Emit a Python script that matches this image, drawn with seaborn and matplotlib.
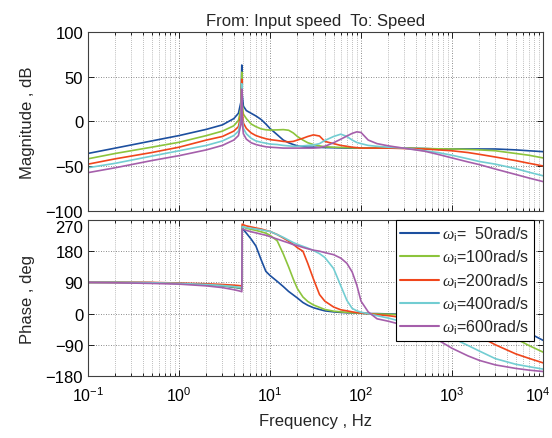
import numpy as np
import pandas as pd
import seaborn as sns
import matplotlib.pyplot as plt
import matplotlib.transforms as mtransforms
from matplotlib.ticker import LogLocator, LogFormatterMathtext, NullFormatter

# frequency grid (Hz)
freq = [0.1, 0.2, 0.5, 1, 2, 3, 4, 4.5, 4.8, 4.9, 4.95, 5.1, 5.5, 6.2, 7, 8, 9, 10,
        12, 14, 16, 18, 20, 23, 26, 30, 35, 40, 50, 60, 70, 80, 90, 100, 120, 150,
        200, 300, 500, 700, 1000, 1500, 2000, 3000, 5000, 7000, 10000]

labels = [r'$\omega_{\rm i}$=  50rad/s', r'$\omega_{\rm i}$=100rad/s',
          r'$\omega_{\rm i}$=200rad/s', r'$\omega_{\rm i}$=400rad/s',
          r'$\omega_{\rm i}$=600rad/s']

# magnitude, dB
mag_50 = [-36, -30, -22, -16, -9, -4, 3, 9, 22, 63, 30, 17, 12, 9, 6, 2, -3, -8,
          -15, -21, -24, -26, -27.5, -28.5, -29, -29, -29.2, -29.4, -29.6, -29.8, -30, -30, -30, -30, -30, -30,
          -30, -30, -30.5, -31, -31, -31, -31, -31, -32, -33, -34]
mag_100 = [-42, -36, -29, -23.5, -16, -11, -5, 1, 15, 55, 20, 8, 3, -3, -6, -8.5, -9.5, -9.8,
           -9.6, -9.3, -10, -13, -17, -21, -24, -26, -27.5, -28.5, -29, -29.3, -29.5, -29.7, -29.8, -30, -30, -30,
           -30, -30, -30.5, -30.8, -31, -31.5, -32, -33, -36, -38, -41]
mag_200 = [-48, -42, -35, -29, -21, -17, -11, -6, 8, 47, 12, -2, -8, -13, -16, -18, -19.5, -20.5,
           -21.5, -22.5, -23, -22.5, -21, -19, -17, -15.2, -16.5, -22.5, -25, -27, -28, -29, -29.5, -30, -30, -30,
           -30, -30.5, -31, -32, -33, -35, -37, -40, -44, -47, -50]
mag_400 = [-52, -47, -39, -33, -27, -22, -16, -11, 3, 42, 5, -8, -14, -19, -22, -23.5, -24.5, -25.5,
           -26, -27, -27.5, -28, -28, -27.5, -27, -26.5, -25, -21.5, -17, -14.4, -17, -21, -23.7, -25, -27, -28,
           -29, -30, -33, -35, -38, -42, -45, -48, -53, -57, -61]
mag_600 = [-57.5, -52, -44, -38.5, -32, -27, -21, -16, -3, 36, 0, -14, -20, -24, -26, -27.5, -28.5, -29,
           -29.5, -30, -30, -30, -30, -30, -30, -30, -29.5, -28, -24, -20, -16.5, -13.5, -11.8, -12.5, -21, -25,
           -27.5, -30.2, -33.5, -37, -41, -45.5, -48.5, -53.5, -59.5, -63.5, -67.5]

# phase, deg
ph_50 = [90, 90, 89, 87, 83, 80, 76, 74, 72, 71, 246, 242, 232, 215, 195, 155, 122, 110,
         93, 78, 64, 54, 45, 32, 24, 17, 12, 8, 5, 3.5, 2.5, 2, 1.5, 1, 0, 0,
         -1, -2, -4, -6, -8, -12, -16, -24, -40, -56, -77]
ph_100 = [90, 90, 89, 87, 84, 81, 77, 75, 74, 73, 252, 250, 246, 243, 240, 236, 232, 226,
          210, 172, 135, 100, 72, 48, 35, 25, 18, 12, 7, 5, 3.5, 2.5, 2, 1, 0, -1,
          -2, -4, -7, -10, -14, -22, -30, -46, -72, -92, -111]
ph_200 = [90, 90, 90, 88, 86, 84, 82, 81, 80, 80, 258, 256, 253, 250, 247, 244, 240, 237,
          228, 218, 209, 200, 190, 180, 145, 100, 55, 36, 19, 11, 8, 5, 3, 1.5, 0, -3,
          -6, -12, -22, -30, -42, -56, -66, -90, -116, -129, -142]
ph_400 = [90, 90, 89, 87, 84, 81, 78, 76, 75, 75, 251, 250, 248, 246, 244, 242, 239, 237,
          228, 220, 212, 205, 200, 194, 189, 182, 173, 162, 130, 80, 38, 15, 8, 4, 0, -6,
          -13, -25, -42, -54, -70, -92, -108, -130, -146, -153, -160]
ph_600 = [90, 89, 87, 85, 80, 75, 69, 66, 64, 63, 244, 243, 240, 236, 233, 229, 226, 222,
          215, 209, 204, 199, 196, 191, 187, 183, 180, 176, 170, 160, 145, 120, 82, 36, 5, -15,
          -22, -34, -58, -76, -100, -122, -135, -148, -158, -163, -167]

colors = ['#1c4f9f', '#8cc43c', '#f0461c', '#72cdd2', '#a55fab']

mags = [mag_50, mag_100, mag_200, mag_400, mag_600]
phases = [ph_50, ph_100, ph_200, ph_400, ph_600]
rows = []
for lab, m, p in zip(labels, mags, phases):
    for f, mv, pv in zip(freq, m, p):
        rows.append({'f': f, 'mag': mv, 'phase': pv, 'series': lab})
df = pd.DataFrame(rows)

sns.set_theme(style='ticks')
plt.rcParams['font.family'] = ['Liberation Sans', 'DejaVu Sans']
plt.rcParams['mathtext.fontset'] = 'custom'
plt.rcParams['mathtext.rm'] = 'Liberation Sans'
plt.rcParams['mathtext.it'] = 'Liberation Serif:italic'
plt.rcParams['axes.unicode_minus'] = True

fig = plt.figure(figsize=(5.52, 4.39), dpi=100)
ax1 = fig.add_axes([0.1594, 0.5180, 0.8243, 0.4068])
ax2 = fig.add_axes([0.1594, 0.1412, 0.8243, 0.3554])

sns.lineplot(data=df, x='f', y='mag', hue='series', palette=colors, estimator=None,
             sort=False, linewidth=1.2, ax=ax1, legend=False)
sns.lineplot(data=df, x='f', y='phase', hue='series', palette=colors, estimator=None,
             sort=False, linewidth=1.2, ax=ax2, legend=True)

for ax in (ax1, ax2):
    ax.set_xscale('log')
    ax.set_xlim(0.1, 1e4)
    ax.xaxis.set_major_locator(LogLocator(base=10, numticks=10))
    ax.xaxis.set_minor_locator(LogLocator(base=10, subs=np.arange(2, 10), numticks=10))
    ax.grid(True, which='major', axis='both', linestyle=(0, (1, 2)), color='0.4', linewidth=0.6)
    ax.grid(True, which='minor', axis='x', linestyle=(0, (1, 2)), color='0.5', linewidth=0.5)
    ax.tick_params(which='both', direction='in', top=True, right=True, labelsize=12,
                   colors='black', length=4, width=0.6)
    ax.tick_params(which='minor', length=2.5)
    for s in ax.spines.values():
        s.set_color('0.25')
        s.set_linewidth(0.8)

ax1.set_ylim(-100, 100)
ax1.set_yticks([100, 50, 0, -50, -100])
ax1.xaxis.set_major_formatter(NullFormatter())
ax1.set_xlabel('')
ax1.set_ylabel('Magnitude , dB', fontsize=12, labelpad=8)
ax1.set_title('From: Input speed  To: Speed', fontsize=12, pad=5)

ax2.set_ylim(-180, 270)
ax2.set_yticks([270, 180, 90, 0, -90, -180])
ax2.xaxis.set_major_formatter(LogFormatterMathtext())
ax2.tick_params(axis='x', labelsize=11.5, pad=7)
ax2.set_xlabel('Frequency , Hz', fontsize=12, labelpad=6)
ax2.set_ylabel('Phase , deg', fontsize=12, labelpad=8)

# keep "270" clear of the "-100" label above it
fig.canvas.draw()
ax2.get_yticklabels()[0].set_verticalalignment('top')
# nudge the last x label so it stays inside the figure
last = [t for t in ax2.get_xticklabels() if t.get_position()[0] == 1e4]
for t in last:
    t.set_transform(t.get_transform() + mtransforms.ScaledTranslation(-5 / 100, 0, fig.dpi_scale_trans))

leg = ax2.legend(loc='upper right', bbox_to_anchor=(0.98, 1.0), borderaxespad=0,
                 fontsize=11.5, frameon=True, fancybox=False, framealpha=1,
                 edgecolor='black', handlelength=2.4, handletextpad=0.2,
                 labelspacing=0.3, borderpad=0.3)
leg.get_frame().set_linewidth(0.8)
for line in leg.get_lines():
    line.set_linewidth(1.5)

fig.align_ylabels([ax1, ax2])
fig.savefig('out.png', dpi=100)
